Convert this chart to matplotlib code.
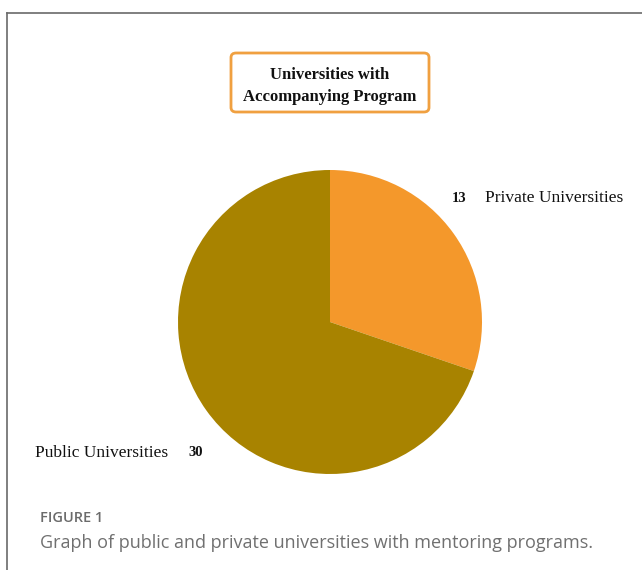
import matplotlib
matplotlib.use("Agg")
import matplotlib.pyplot as plt
from matplotlib.patches import FancyBboxPatch
from matplotlib.lines import Line2D

labels = ["Private Universities", "Public Universities"]
counts = [13, 30]
colors = ["#F4982B", "#A88300"]
title = "Universities with\nAccompanying Program"
caption_head = "FIGURE 1"
caption = "Graph of public and private universities with mentoring programs."

W, H = 642, 570


def fx(px):
    return px / W


def fy(py):
    return 1 - py / H


fig = plt.figure(figsize=(W / 100, H / 100), dpi=100)

# frame lines (top and left)
fig.add_artist(Line2D([fx(7), 1], [fy(13), fy(13)], color="#6a6a6a", lw=1.2))
fig.add_artist(Line2D([fx(7), fx(7)], [fy(13), 0], color="#6a6a6a", lw=1.2))

# pie
ax = fig.add_axes([fx(178), fy(474), fx(304), 304 / H])
ax.pie(counts, colors=colors, startangle=90, counterclock=False,
       wedgeprops=dict(linewidth=0))
ax.set_xlim(-1, 1)
ax.set_ylim(-1, 1)
ax.set_aspect("equal")
ax.axis("off")

# title box
box = FancyBboxPatch((fx(231), fy(112)), fx(198), 59 / H,
                     boxstyle="round,pad=0,rounding_size=0.008",
                     transform=fig.transFigure, facecolor="white",
                     edgecolor="#F0A040", linewidth=2)
fig.add_artist(box)
fig.text(fx(330), fy(86), title, ha="center", va="center",
         family="Liberation Serif", fontweight="bold", fontsize=12,
         linespacing=1.45, color="#111111")

# slice labels
serif = "Liberation Serif"
fig.text(fx(466), fy(198), str(counts[0]), ha="right", va="center",
         family=serif, fontweight="bold", fontsize=10.5, color="#111111")
fig.text(fx(485), fy(198), labels[0], ha="left", va="center",
         family=serif, fontsize=12.5, color="#111111")
fig.text(fx(35), fy(453), labels[1], ha="left", va="center",
         family=serif, fontsize=12.5, color="#111111")
fig.text(fx(188), fy(453), str(counts[1]), ha="left", va="center",
         family=serif, fontweight="bold", fontsize=10.5, color="#111111")

# caption
fig.text(fx(40), fy(518), caption_head, ha="left", va="center",
         family="Open Sans", fontsize=10.5, fontweight="semibold", color="#6b6b6b")
fig.text(fx(40), fy(543), caption, ha="left", va="center",
         family="Open Sans", fontsize=13, color="#707070")

fig.savefig("out.png", dpi=100)
